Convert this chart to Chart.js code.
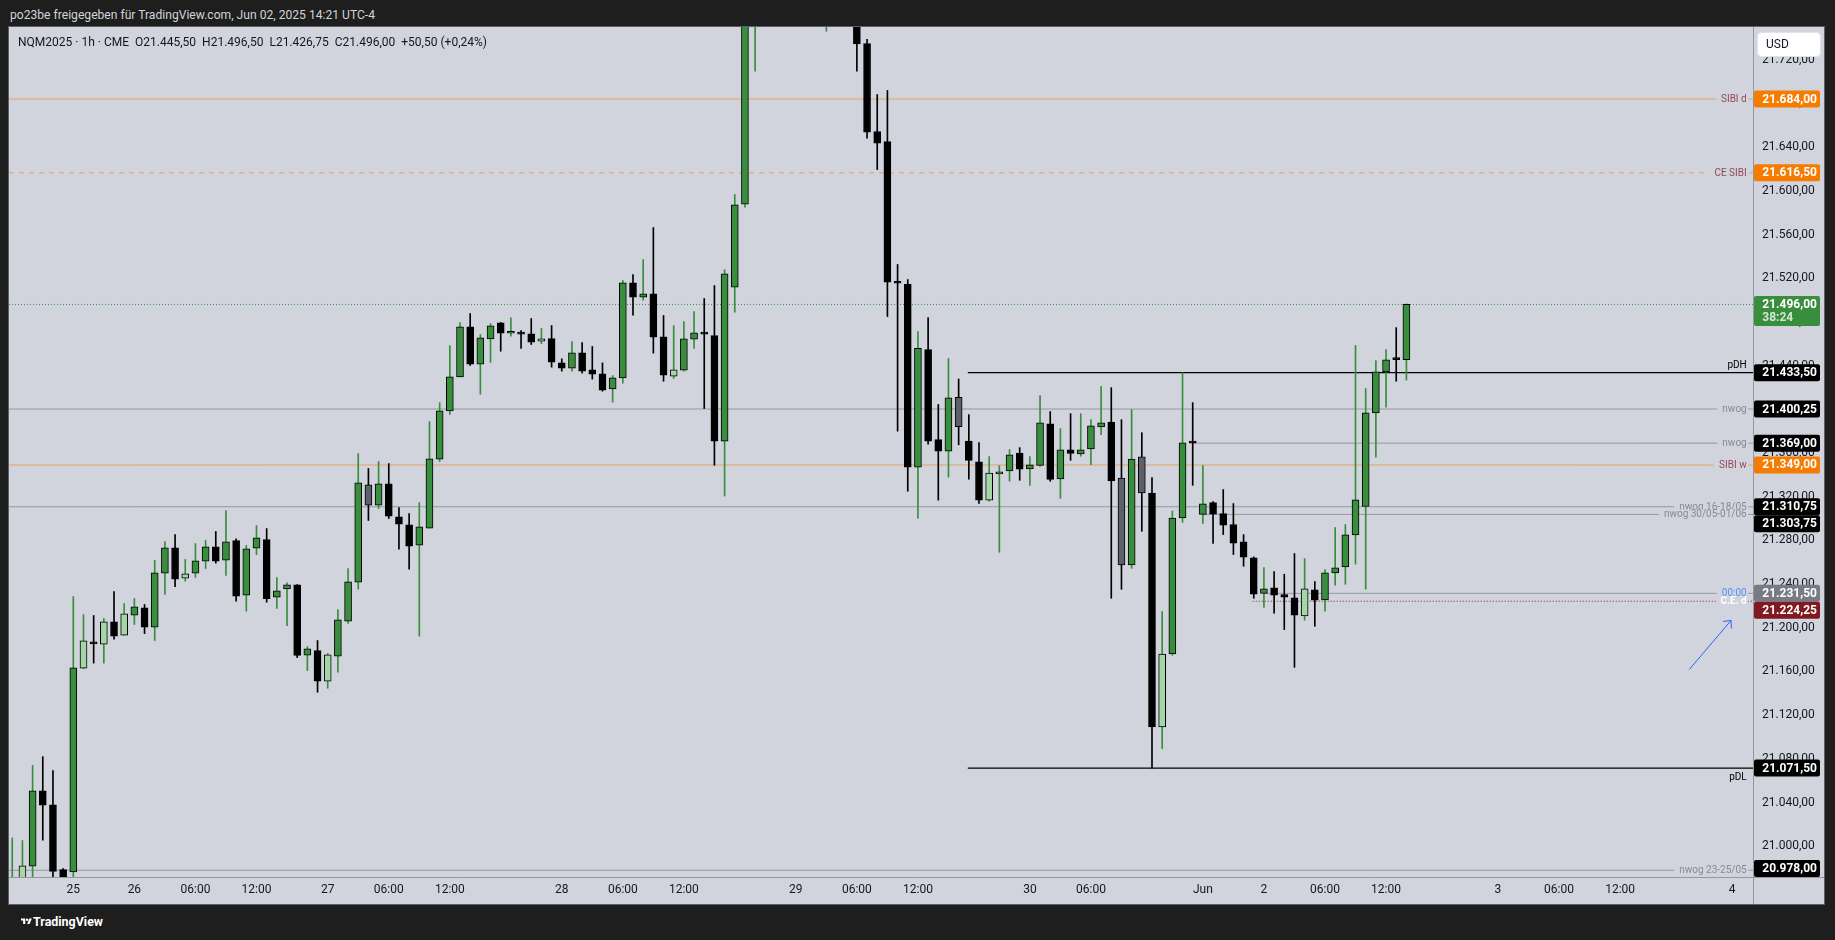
<!DOCTYPE html>
<html><head><meta charset="utf-8">
<script src="https://cdn.jsdelivr.net/npm/chart.js@4.4.1/dist/chart.umd.min.js"></script>
<style>
html,body{margin:0;padding:0;background:#1e1e1e;width:1835px;height:940px;overflow:hidden;font-family:Roboto,"Noto Sans",sans-serif;}
.fit{display:inline-block;white-space:pre;transform-origin:0 50%;position:absolute;}
#hdr{left:10px;top:7px;color:#d1d4dc;font-size:12.5px;line-height:16px;}
#frame{position:absolute;left:8px;top:26px;width:1817px;height:879px;background:#d1d4dc;box-sizing:border-box;border:1px solid #5d606b;}
#wrap{position:absolute;left:0;top:0;width:1815px;height:877px;}
#leg{left:18.3px;top:34px;color:#131722;font-size:13px;line-height:16px;}
#foot{position:absolute;left:21px;top:914px;height:16px;}
#foot svg{position:absolute;left:0;top:3px;}
#ftxt{left:12px;top:0;color:#ffffff;font-size:13px;font-weight:bold;line-height:16px;}
</style></head>
<body>
<span id="hdr" class="fit" data-w="365">po23be freigegeben für TradingView.com, Jun 02, 2025 14:21 UTC-4</span>
<div id="frame"><div id="wrap"><canvas id="c"></canvas></div></div>
<span id="leg" class="fit" data-w="469">NQM2025 · 1h · CME  O21.445,50  H21.496,50  L21.426,75  C21.496,00  +50,50 (+0,24%)</span>
<div id="foot"><svg width="11" height="9" viewBox="0 0 36 28"><path d="M14 22H7V11H0V4h14v18zM28 22h-8l7.5-18h8L28 22z" fill="#fff"/><circle cx="20" cy="8" r="4" fill="#fff"/></svg><span id="ftxt" class="fit" data-w="70">TradingView</span></div>
<script>
// ---------------- DATA ----------------
const firstBar = -12; // bar index of first candle (index 0 = May 26 00:00, 1h bars)
const open = [20958,20966,20981.7,21050.7,21037.8,20978.6,20976.5,21163,21186.2,21185,21205.4,21193.2,
21211.5,21218.2,21200.5,21250,21273.1,21245.4,21250,21260.9,21274.1,21261.9,
21279.9,21229.8,21272.8,21280.8,21228,21235.6,21239.3,21174.9,21179.1,21151.1,
21173.9,21206,21241.7,21330.8,21312.2,21331.7,21301.5,21294.2,21275.6,21291.1,
21354.3,21398.6,21429.7,21475.5,21441.3,21464.5,21479.2,21469.6,21469.6,21469.1,
21462.4,21464.8,21442.5,21437.6,21451.7,21436.1,21432.4,21418.7,21428.8,21515.8,
21502.7,21505.7,21466.3,21430.3,21435.8,21464.2,21469.6,21467.6,21370.8,21511.8,
21587.8,21765,21790,21805,21820,21842,21808,21788,21770,21785,
21764,21762,21734.9,21654.3,21645.2,21516.2,21514.3,21347,21454.7,21372.3,
21361.7,21411,21371,21351.8,21316.7,21340.8,21343.6,21360,21345.4,21348.7,
21386.6,21336.2,21362.8,21359.1,21363.7,21383.8,21388.4,21337.1,21257.5,21356.4,
21323.4,21109.2,21176,21300.5,21369.8,21303.75,21314.6,21304.5,21294.5,21278.6,
21264,21231.5,21236.5,21230.4,21227.3,21210.9,21234.7,21225.5,21250.2,21255.7,
21285,21311,21396.7,21434.2,21446,21445.5];
const high = [21007.6,21005.2,21074,21082,21069.3,20979.5,21228.6,21212.1,21211.2,21208.4,21233.2,21222.2,
21226.8,21221.3,21261.6,21278.9,21285.4,21262.5,21277.1,21279.9,21288.1,21307.3,
21281.4,21275.3,21293.6,21290.8,21246,21241.1,21239.5,21182.8,21188.3,21176.4,
21216.7,21254.2,21359.5,21345.8,21352.2,21350.3,21310.1,21304.6,21314.6,21388.8,
21406.2,21458.4,21479.4,21487.7,21468.5,21478.5,21479.5,21483.7,21472.1,21483.1,
21474,21476.7,21446.2,21462.1,21461.1,21457.5,21442.5,21430.9,21517.9,21523.4,
21537.1,21566.4,21485.9,21476.7,21480.4,21489.5,21501.4,21513.3,21527.7,21596.7,
21772,21800,21815,21832,21858,21850,21825,21800,21795,21790,
21776,21768,21738.6,21688.2,21691.9,21532.6,21518.8,21471.2,21484,21404.4,
21446.5,21427.7,21395.1,21369.5,21356.7,21348.4,21363.1,21364.9,21356.7,21412.5,
21397.9,21382.3,21396,21396,21390.5,21420.8,21419.8,21390.5,21399.7,21378.6,
21337.4,21214.8,21306.9,21433.5,21406.1,21348.5,21315.5,21326.5,21313.7,21285.3,
21264.9,21255.1,21251.4,21249,21267.9,21263.3,21242.3,21253.3,21291.7,21294.5,
21458.4,21419,21444.6,21454.7,21474.8,21496.5];
const low = [20950,20960,20965,21005.5,20966,20966,20970,21162.4,21167.6,21167.6,21189.5,21193,
21203,21194.7,21188.3,21230.4,21237.7,21242.6,21246,21254.2,21259.1,21247.8,
21224.3,21215.2,21267,21223.4,21217.6,21202,21172.7,21160.8,21141,21144.6,
21159.3,21203.9,21235.3,21298.2,21309.1,21300,21271.9,21253.6,21192.3,21291.1,
21352.2,21395.2,21429.7,21440.1,21413.8,21443.1,21453.2,21467,21455.7,21459.3,
21460.2,21438.6,21434.9,21434.9,21433.1,21427.6,21416.6,21406.5,21423.9,21486.2,
21499.9,21451.4,21425.7,21428.2,21434.9,21455.7,21400.7,21348.8,21320.5,21488.9,
21585,21709.6,21770,21790,21810,21800,21780,21765,21746.2,21756,
21755,21709.6,21648.2,21619.5,21484.9,21380,21325,21300.3,21368.1,21316.8,
21337.9,21367.5,21336,21313.9,21315.8,21269.1,21334.1,21335,21330.4,21347.8,
21334.1,21318.5,21353.3,21357,21349.4,21376.8,21227,21235.2,21254.4,21288.3,
21071.5,21089.3,21174.8,21296.5,21330.4,21295.5,21277.1,21285.3,21267,21256.3,
21227,21218.5,21213.3,21198.3,21163.8,21206.9,21201.4,21215.1,21238.9,21239.8,
21258.2,21235.3,21356.1,21401.9,21425.7,21426.75];
const close = [20966,20982,21050.7,21037.5,20977,20971.5,21163.3,21188,21185.2,21205.4,21192.3,21212.7,
21219.1,21200.5,21250.3,21273.1,21244.5,21249.3,21261.2,21274.1,21260.9,21278.6,
21228.9,21272.2,21282.3,21226.7,21233.8,21239.3,21174.6,21180.7,21151.1,21175.2,
21207.2,21242,21332.6,21312.2,21331.7,21302.1,21294.8,21274.7,21292.4,21354.6,
21398.6,21429.7,21475.5,21441.3,21465.4,21476.4,21469.7,21470.4,21468.8,21461.4,
21464.5,21443.1,21437.6,21451.7,21434.9,21432.2,21417.5,21428.8,21515.8,21502.7,
21505.7,21466,21431.3,21436.1,21464.5,21470,21468.8,21370.8,21524,21587.2,
21765,21790,21805,21820,21842,21808,21788,21772,21785,21764,
21762,21734.6,21653.7,21643.7,21516.4,21515.4,21347,21455.7,21370.8,21361.7,
21410.5,21384.2,21353.3,21316.7,21341.7,21342.6,21358.2,21345.1,21349.1,21387.5,
21335.9,21362.8,21359.7,21362.8,21384.8,21387.5,21334.4,21257.5,21354.5,21323.4,
21109.2,21176,21300.5,21369.2,21369,21313.4,21303.9,21293.9,21277.4,21264.6,
21230.7,21235.6,21229.8,21227.9,21211.5,21235.6,21225.2,21250.2,21254.8,21285,
21317.1,21396.7,21434.2,21445.2,21445.5,21496];
// g = green, l = light green, b = black, k = grey
const barStyle = ("glgbbbglblbl"+"gbggblggbg"+"bggbggbgbl"+"gggkgbbbgg"+"gggbggbgbb"+"lbbgbbbggb"+
  "gbblggbbgg"+"gggggbbbgb"+"bbbbbbbgbb"+"gkbblggbgg"+"bgbgggbkgk"+"blggbgbbbb"+"bgbbblbggg"+"ggggbg").split('');

const xTickIdx    = [-6, 0, 6, 12, 19, 25, 31, 42, 48, 54, 65, 71, 77, 88, 94, 105, 111, 117, 123, 134, 140, 146, 157];
const xTickLabels = ['25','26','06:00','12:00','27','06:00','12:00','28','06:00','12:00','29','06:00','12:00','30','06:00','Jun','2','06:00','12:00','3','06:00','12:00','4'];
const yTicks = [21000,21040,21080,21120,21160,21200,21240,21280,21320,21360,21400,21440,21480,21520,21560,21600,21640,21680,21720];

const levelPrice = [21684.00, 21616.50, 21433.50, 21400.25, 21369.00, 21349.00, 21310.75, 21303.75, 21231.50, 21224.25, 21071.50, 20978.00];
const levelStart = [null, null, 81.9, null, 104, null, null, 105, 111, 109.9, 81.9, null];
const levelText  = ['SIBI d','CE SIBI','pDH','nwog','nwog','SIBI w','nwog 16-18/05','nwog 30/05-01/06','00:00','C.E. d','pDL','nwog 23-25/05'];
const levelKind  = ['sibi','sibiDash','pdHigh','nwog','nwog','sibi','nwog','nwog','midnight','ced','pdLow','nwog'];
const lastPrice = 21496.00;
const countdown = '38:24';
const arrowX = [152.8, 156.9];
const arrowY = [21161.8, 21206.6];

// ---------------- STYLE ----------------
const X_MIN = -12.32, X_MAX = 159.06, Y_MIN = 20971.8, Y_MAX = 21750.0;
const FILL = {g:'#388e3c', l:'#a5d6a7', b:'#000000', k:'#5d606b'};
const WICK = {g:'#388e3c', l:'#388e3c', b:'#000000', k:'#000000'};
const KIND = {
  sibi:    {line:'rgba(245,124,0,0.55)', dash:[],    w:1, text:'#93485a', pos:'on',   tag:'#f57c00'},
  sibiDash:{line:'rgba(245,124,0,0.55)', dash:[5,5], w:1, text:'#93485a', pos:'on',   tag:'#f57c00'},
  pdHigh:  {line:'#000000', dash:[], w:1.3, text:'#000000', pos:'above', tag:'#000000'},
  pdLow:   {line:'#000000', dash:[], w:1.3, text:'#000000', pos:'below', tag:'#000000'},
  nwog:    {line:'#9598a1', dash:[], w:1, text:'#878a93', pos:'on', tag:'#000000'},
  midnight:{line:'#9598a1', dash:[], w:1, text:'#5d8ef5', pos:'on', tag:'#787b86'},
  ced:     {line:'#801922', dash:[1,2], w:1, text:'#ffffff', pos:'on', tag:'#801922', bold:true}
};
const BG = '#d1d4dc';

function fmt(v){
  const s = Math.abs(v).toFixed(2).split('.');
  return (v<0?'-':'') + s[0].replace(/\B(?=(\d{3})+(?!\d))/g,'.') + ',' + s[1];
}

// ---------------- BUILD ----------------
const bodies = open.map((o,k)=>({x:firstBar+k, y:[o, close[k]]}));
const wicks  = high.map((h,k)=>({x:firstBar+k, y:[low[k], h]}));

const datasets = [
  {type:'bar', data:bodies, backgroundColor:barStyle.map(s=>FILL[s]), borderColor:'#000000', borderWidth:1,
   borderSkipped:false, barThickness:7, minBarLength:2, grouped:false, order:1, clip:0},
  {type:'bar', data:wicks, backgroundColor:barStyle.map(s=>WICK[s]), borderWidth:0,
   barThickness:1, grouped:false, order:2, clip:0},
  {type:'line', data:[{x:X_MIN,y:lastPrice},{x:X_MAX,y:lastPrice}], borderColor:'#388e3c', borderWidth:1,
   borderDash:[1,2], pointRadius:0, order:4, clip:0}
];
levelPrice.forEach((p,k)=>{
  const st = KIND[levelKind[k]];
  datasets.push({type:'line', data:[{x:levelStart[k]===null?X_MIN:levelStart[k], y:p},{x:X_MAX,y:p}],
    borderColor:st.line, borderWidth:st.w, borderDash:st.dash, pointRadius:0, order:5, clip:0});
});

const overlay = {
  id:'overlay',
  afterDatasetsDraw(chart){
    const {ctx, chartArea:a, scales:{x, y}} = chart;
    ctx.save();
    const right = a.right - 6.3;
    levelPrice.forEach((p,k)=>{
      const st = KIND[levelKind[k]];
      const py = y.getPixelForValue(p);
      ctx.font = (st.bold?'bold ':'') + '10px Roboto';
      ctx.textAlign = 'right';
      const w = ctx.measureText(levelText[k]).width;
      if (st.pos==='on'){
        ctx.fillStyle = BG;
        ctx.fillRect(right - w - 5, py - 5, w + 6.5, 10);
        ctx.fillStyle = st.text; ctx.textBaseline = 'middle';
        ctx.fillText(levelText[k], right, py + 0.5);
      } else if (st.pos==='above'){
        ctx.fillStyle = st.text; ctx.textBaseline = 'bottom';
        ctx.fillText(levelText[k], right, py - 2);
      } else {
        ctx.fillStyle = st.text; ctx.textBaseline = 'top';
        ctx.fillText(levelText[k], right, py + 4);
      }
    });
    // arrow drawing
    const x0 = x.getPixelForValue(arrowX[0]), y0 = y.getPixelForValue(arrowY[0]);
    const x1 = x.getPixelForValue(arrowX[1]), y1 = y.getPixelForValue(arrowY[1]);
    ctx.strokeStyle = '#2962ff'; ctx.lineWidth = 1;
    ctx.beginPath(); ctx.moveTo(x0,y0); ctx.lineTo(x1,y1); ctx.stroke();
    const ang = Math.atan2(y0-y1, x0-x1);
    ctx.beginPath();
    ctx.moveTo(x1 + 8*Math.cos(ang-0.75), y1 + 8*Math.sin(ang-0.75));
    ctx.lineTo(x1, y1);
    ctx.lineTo(x1 + 8*Math.cos(ang+0.75), y1 + 8*Math.sin(ang+0.75));
    ctx.stroke();
    ctx.restore();
  },
  afterDraw(chart){
    const {ctx, chartArea:a, scales:{y}} = chart;
    const W = chart.width, H = chart.height;
    ctx.save();
    // axis separators
    ctx.strokeStyle = '#9598a1'; ctx.lineWidth = 1;
    ctx.beginPath(); ctx.moveTo(a.right+0.5, 0); ctx.lineTo(a.right+0.5, H); ctx.stroke();
    ctx.beginPath(); ctx.moveTo(0, a.bottom+0.5); ctx.lineTo(W, a.bottom+0.5); ctx.stroke();
    // price tags
    const tags = levelPrice.map((p,k)=>({p, color:KIND[levelKind[k]].tag, h:17}));
    tags.push({p:lastPrice, color:'#388e3c', h:30, sub:countdown});
    tags.forEach(t=>{ t.top = y.getPixelForValue(t.p) - 8.5; });
    tags.sort((m,n)=>m.top-n.top);
    let prev = -1e9;
    tags.forEach(t=>{
      if (t.top < prev) t.top = prev;
      if (t.top + t.h > a.bottom) t.top = a.bottom - t.h;
      prev = t.top + t.h;
    });
    tags.forEach(t=>{
      ctx.fillStyle = t.color;
      ctx.beginPath(); ctx.roundRect(a.right+1, t.top, 66, t.h, 2); ctx.fill();
      ctx.fillStyle = '#ffffff'; ctx.font = 'bold 12px Roboto';
      ctx.textAlign = 'left'; ctx.textBaseline = 'middle';
      ctx.fillText(fmt(t.p), a.right + 9.3, t.top + 9);
      if (t.sub){
        ctx.fillStyle = 'rgba(255,255,255,0.78)';
        ctx.fillText(t.sub, a.right + 9.3, t.top + 22);
      }
    });
    // currency box
    ctx.fillStyle = '#ffffff'; ctx.strokeStyle = '#e0e3eb';
    ctx.beginPath(); ctx.roundRect(a.right + 4.5, 5.5, 63, 24, 4); ctx.fill(); ctx.stroke();
    ctx.fillStyle = '#131722'; ctx.font = '12px Roboto'; ctx.textAlign='left'; ctx.textBaseline='middle';
    ctx.fillText('USD', a.right + 13, 18);
    ctx.restore();
  }
};

function zeroPad(s){ s.paddingTop = 0; s.paddingBottom = 0; s.paddingLeft = 0; s.paddingRight = 0; }

Chart.defaults.font.family = 'Roboto';
new Chart(document.getElementById('c'), {
  type:'bar',
  data:{datasets},
  options:{
    responsive:true, maintainAspectRatio:false, devicePixelRatio:1, animation:false,
    layout:{padding:0, autoPadding:false},
    plugins:{legend:{display:false}, tooltip:{enabled:false}},
    scales:{
      x:{type:'linear', min:X_MIN, max:X_MAX, offset:false,
         grid:{display:false, drawTicks:false}, border:{display:false},
         afterBuildTicks:s=>{ s.ticks = xTickIdx.map(v=>({value:v})); },
         afterFit:s=>{ s.height = 27; zeroPad(s); },
         ticks:{autoSkip:false, maxRotation:0, padding:6, color:'#131722', font:{size:12},
                callback:v=>{ const k = xTickIdx.indexOf(v); return k<0?'':xTickLabels[k]; }}},
      y:{type:'linear', position:'right', min:Y_MIN, max:Y_MAX,
         grid:{display:false, drawTicks:false}, border:{display:false},
         afterBuildTicks:s=>{ s.ticks = yTicks.map(v=>({value:v})); },
         afterFit:s=>{ s.width = 71; zeroPad(s); },
         ticks:{autoSkip:false, padding:9, color:'#131722', font:{size:12}, callback:v=>fmt(v)}}
    }
  },
  plugins:[overlay]
});

function fit(){
  document.querySelectorAll('.fit').forEach(el=>{
    el.style.transform = 'none';
    const w = el.getBoundingClientRect().width;
    if (w>0) el.style.transform = 'scaleX(' + (el.dataset.w / w) + ')';
  });
}
fit();
if (document.fonts && document.fonts.ready) document.fonts.ready.then(fit);
</script>
</body></html>
